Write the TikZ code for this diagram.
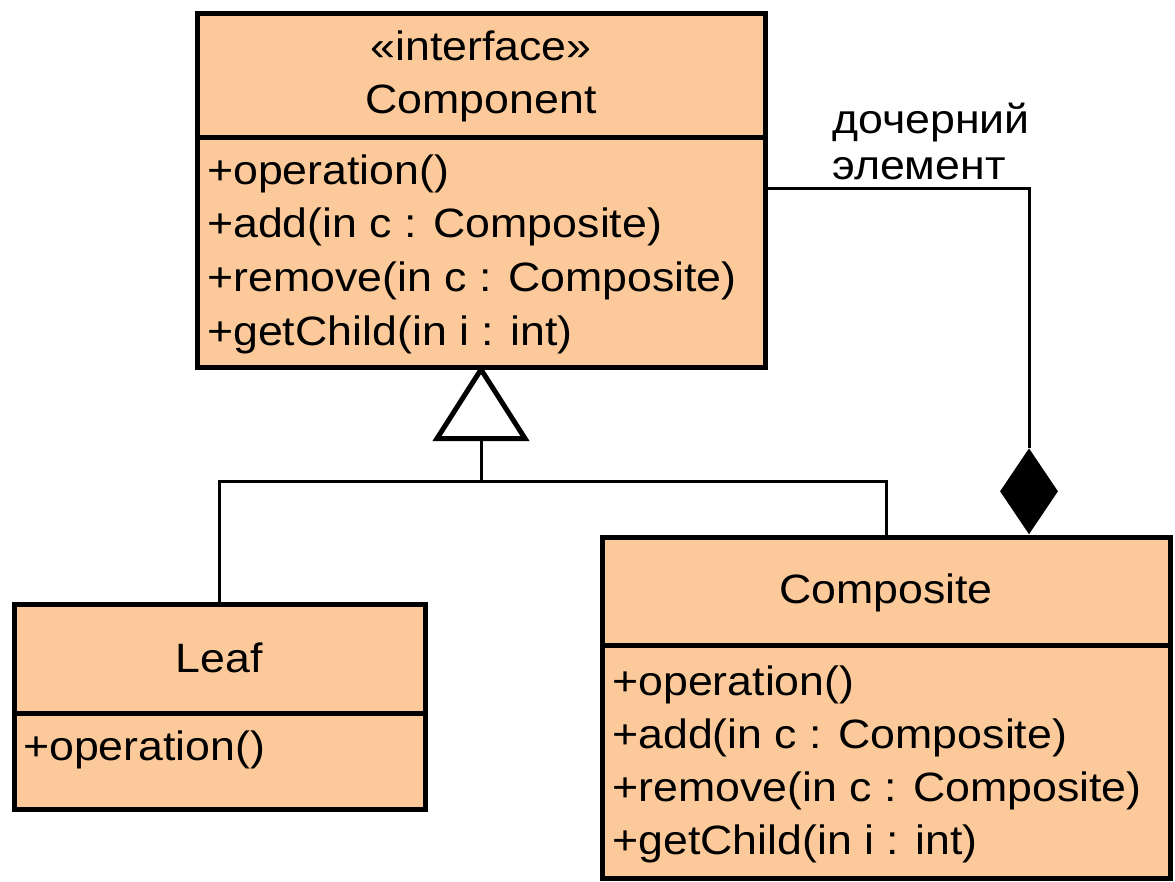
\documentclass[tikz,border=0pt]{standalone}
\usepackage{fontspec}
\setmainfont{Liberation Sans}[FakeStretch=1.09]
\usetikzlibrary{shapes.geometric}
\definecolor{classfill}{RGB}{252,202,154}
\begin{document}
\begin{tikzpicture}[x=1pt,y=-1pt,
  umlclass/.style={draw=black,fill=classfill,line width=5pt,inner sep=0pt,rectangle},
  divider/.style={line width=5pt},
  conn/.style={line width=3pt},
  txt/.style={inner sep=0pt,font=\fontsize{41}{53}\selectfont},
  member/.style={txt,anchor=base west},
  title/.style={txt,anchor=base}]
\useasboundingbox (0,0) rectangle (1175,881);
\fill[white] (0,0) rectangle (1175,881);

% class boxes
\node[umlclass,minimum width=568pt,minimum height=354pt] (comp) at (481,190) {};
\node[umlclass,minimum width=411pt,minimum height=205pt] (leaf) at (219.5,706.5) {};
\node[umlclass,minimum width=568pt,minimum height=341pt] (compos) at (886,707.5) {};

% compartment dividers
\draw[divider] (comp.west |- 0,137) -- (comp.east |- 0,137);
\draw[divider] (leaf.west |- 0,713) -- (leaf.east |- 0,713);
\draw[divider] (compos.west |- 0,645) -- (compos.east |- 0,645);

% Component
\node[title] (cst) at (481,60) {«interface»};
\node[title] (cname) at (481,113) {Component};
\node[member] (c1) at (207,184) {+operation()};
\node[member] (c2) at (207,237) {+add(in c : Composite)};
\node[member] (c3) at (207,291) {+remove(in c : Composite)};
\node[member] (c4) at (207,345) {+getChild(in i : int)};

% Leaf
\node[title] (lname) at (219,672) {Leaf};
\node[member] (l1) at (23,760) {+operation()};

% Composite
\node[title] (kname) at (886,603) {Composite};
\node[member] (k1) at (612,695) {+operation()};
\node[member] (k2) at (612,748) {+add(in c : Composite)};
\node[member] (k3) at (612,801) {+remove(in c : Composite)};
\node[member] (k4) at (612,854) {+getChild(in i : int)};

% generalization: hollow triangle under Component
\coordinate (apex) at (comp.south);
\draw[line width=5pt,line join=miter,fill=white] (apex) -- ++(-44,69) -- ++(88,0) -- cycle;
\coordinate (gbase) at ([yshift=-69pt]apex);
\coordinate (gjoin) at (481,481);
\draw[conn] (gbase) -- (gjoin);
\draw[conn] (gjoin) -| (leaf.north);
\draw[conn] (gjoin) -| (compos.north);

% composition: filled diamond on Composite
\node[diamond,fill=black,draw=none,inner sep=0pt,minimum width=58pt,minimum height=86pt,anchor=south] (dia) at (compos.north -| 1029,0) {};
\draw[conn] (comp.east |- 0,188) -| (dia.north);
\node[member] (role1) at (832,133) {дочерний};
\node[member] (role2) at (832,179) {элемент};
\end{tikzpicture}
\end{document}
